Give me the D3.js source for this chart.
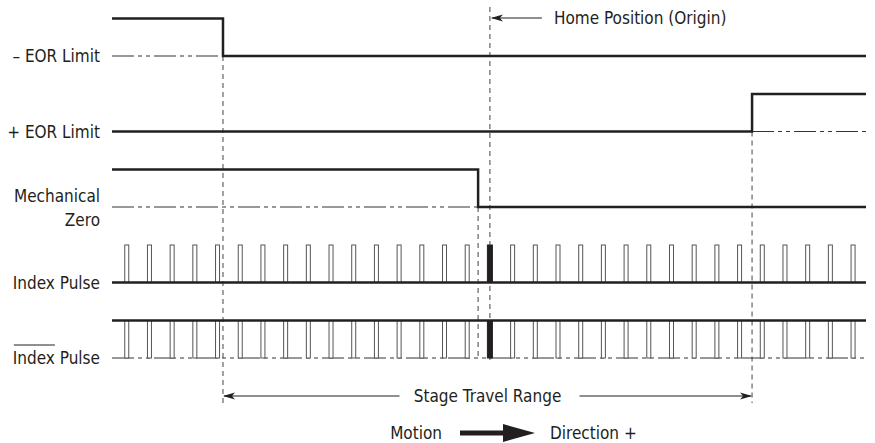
<!DOCTYPE html>
<html>
<head>
<meta charset="utf-8">
<script src="https://cdn.jsdelivr.net/npm/d3@7"></script>
<style>
  body { margin: 0; background: #fff; }
  text { font-family: "Liberation Sans Narrow", "DejaVu Sans Condensed", sans-serif; fill: #231f20; }
</style>
</head>
<body>
<svg id="chart"></svg>
<script>
// positions are in index-pulse pitches, home position = 0
const travelExtent = [-16.65, 16.57];
const signalNames = ["– EOR Limit", "+ EOR Limit", "Mechanical Zero", "Index Pulse", "Index Pulse"];
const edgeAt = [-11.76, 11.55, -0.52];
const startsHigh = [true, false, true];
const indexPulses = [-16, -15, -14, -13, -12, -11, -10, -9, -8, -7, -6, -5, -4, -3, -2, -1,
  0, 1, 2, 3, 4, 5, 6, 7, 8, 9, 10, 11, 12, 13, 14, 15, 16];
const homeAt = 0;

const width = 875;
const height = 443;
const ink = '#231f20';

const svg = d3.select('#chart')
  .attr('width', width)
  .attr('height', height);

const x = d3.scaleLinear().domain(travelExtent).range([112, 866]);
const yLow = d3.scaleLinear().domain([0, 4]).range([56, 358]);
const level = 37.5;
const yHigh = i => yLow(i) - level;

const defs = svg.append('defs');
defs.append('marker')
  .attr('id', 'arrow')
  .attr('viewBox', '0 -5 12 10')
  .attr('refX', 11)
  .attr('refY', 0)
  .attr('markerWidth', 12)
  .attr('markerHeight', 10)
  .attr('markerUnits', 'userSpaceOnUse')
  .attr('orient', 'auto-start-reverse')
  .append('path')
  .attr('d', 'M0,-3.5L12,0L0,3.5L3,0Z')
  .attr('fill', ink);

const dashDot = '22,4,4,4,4,4';

// dashed guide lines
const guides = [
  { at: edgeAt[0], y1: yLow(0), y2: 403 },
  { at: edgeAt[1], y1: yLow(1), y2: 403 },
  { at: edgeAt[2], y1: yLow(2), y2: 360 },
  { at: homeAt, y1: 7, y2: 360 }
];
svg.selectAll('line.guide')
  .data(guides)
  .enter()
  .append('line')
  .attr('class', 'guide')
  .attr('x1', d => x(d.at))
  .attr('x2', d => x(d.at))
  .attr('y1', d => d.y1)
  .attr('y2', d => d.y2)
  .style('stroke', '#444')
  .style('stroke-width', 1)
  .style('stroke-dasharray', '5,4');

// dash-dot reference levels where the signal is high
const refs = [
  { row: 0, from: travelExtent[0], to: edgeAt[0] },
  { row: 1, from: edgeAt[1], to: travelExtent[1] },
  { row: 2, from: travelExtent[0], to: edgeAt[2] },
  { row: 4, from: travelExtent[0], to: travelExtent[1] }
];
svg.selectAll('line.ref')
  .data(refs)
  .enter()
  .append('line')
  .attr('class', 'ref')
  .attr('x1', d => x(d.from))
  .attr('x2', d => x(d.to))
  .attr('y1', d => yLow(d.row))
  .attr('y2', d => yLow(d.row))
  .style('stroke', '#333')
  .style('stroke-width', 1)
  .style('stroke-dasharray', dashDot);

// step signals
const line = d3.line().x(d => x(d[0])).y(d => d[1]);
edgeAt.forEach((e, i) => {
  const a = startsHigh[i] ? yHigh(i) : yLow(i);
  const b = startsHigh[i] ? yLow(i) : yHigh(i);
  svg.append('path')
    .attr('d', line([[travelExtent[0], a], [e, a], [e, b], [travelExtent[1], b]]))
    .style('fill', 'none')
    .style('stroke', ink)
    .style('stroke-width', 2.5);
});

// index pulse and its complement
[3, 4].forEach(row => {
  const base = row === 3 ? yLow(row) : yHigh(row);
  const tip = row === 3 ? yHigh(row) : yLow(row);
  svg.selectAll('rect.p' + row)
    .data(indexPulses)
    .enter()
    .append('rect')
    .attr('class', 'p' + row)
    .attr('x', d => x(d) - (d === homeAt ? 2.5 : 2))
    .attr('width', d => d === homeAt ? 5 : 4)
    .attr('y', Math.min(base, tip))
    .attr('height', Math.abs(base - tip))
    .style('fill', d => d === homeAt ? ink : '#fff')
    .style('stroke', d => d === homeAt ? ink : '#555')
    .style('stroke-width', 1);
  svg.append('line')
    .attr('x1', x(travelExtent[0]))
    .attr('x2', x(travelExtent[1]))
    .attr('y1', base)
    .attr('y2', base)
    .style('stroke', ink)
    .style('stroke-width', 2.5);
});

// row labels
const labelX = 100;
const fs = '17px';
[0, 1, 3].forEach(i => {
  svg.append('text')
    .attr('x', labelX)
    .attr('y', yLow(i))
    .attr('dy', '0.36em')
    .attr('text-anchor', 'end')
    .style('font-size', fs)
    .text(signalNames[i]);
});
const mech = signalNames[2].split(' ');
svg.append('text').attr('x', labelX).attr('y', 202).attr('text-anchor', 'end')
  .style('font-size', fs).text(mech[0]);
svg.append('text').attr('x', labelX).attr('y', 226).attr('text-anchor', 'end')
  .style('font-size', fs).text(mech[1]);
const inv = svg.append('text')
  .attr('x', labelX)
  .attr('y', yLow(4))
  .attr('dy', '0.36em')
  .attr('text-anchor', 'end')
  .style('font-size', fs)
  .text(signalNames[4]);
const total = inv.node().getComputedTextLength();
const first = inv.node().getSubStringLength(0, 5);
svg.append('line')
  .attr('x1', labelX - total + 1)
  .attr('x2', labelX - total + first)
  .attr('y1', 345)
  .attr('y2', 345)
  .style('stroke', ink)
  .style('stroke-width', 1);

// home position callout
svg.append('line')
  .attr('x1', x(homeAt) + 52)
  .attr('x2', x(homeAt) + 2)
  .attr('y1', 18).attr('y2', 18)
  .style('stroke', ink)
  .style('stroke-width', 1)
  .attr('marker-end', 'url(#arrow)');
svg.append('text')
  .attr('x', x(homeAt) + 64)
  .attr('y', 18)
  .attr('dy', '0.36em')
  .style('font-size', fs)
  .text('Home Position (Origin)');

// stage travel range
const rangeY = 396;
const rangeMid = (x(edgeAt[0]) + x(edgeAt[1])) / 2;
svg.append('line')
  .attr('x1', rangeMid - 88).attr('x2', x(edgeAt[0]) + 1)
  .attr('y1', rangeY).attr('y2', rangeY)
  .style('stroke', ink).style('stroke-width', 1)
  .attr('marker-end', 'url(#arrow)');
svg.append('line')
  .attr('x1', rangeMid + 92).attr('x2', x(edgeAt[1]) - 1)
  .attr('y1', rangeY).attr('y2', rangeY)
  .style('stroke', ink).style('stroke-width', 1)
  .attr('marker-end', 'url(#arrow)');
svg.append('text')
  .attr('x', rangeMid)
  .attr('y', rangeY)
  .attr('dy', '0.36em')
  .attr('text-anchor', 'middle')
  .style('font-size', fs)
  .text('Stage Travel Range');

// motion direction
const motionY = 433;
svg.append('text')
  .attr('x', 442).attr('y', motionY).attr('dy', '0.36em')
  .attr('text-anchor', 'end').style('font-size', fs).text('Motion');
svg.append('path')
  .attr('d', `M460,${motionY - 2.5}H503V${motionY - 9}L535,${motionY}L503,${motionY + 9}V${motionY + 2.5}H460Z`)
  .style('fill', ink);
svg.append('text')
  .attr('x', 550).attr('y', motionY).attr('dy', '0.36em')
  .style('font-size', fs).text('Direction +');
</script>
</body>
</html>
